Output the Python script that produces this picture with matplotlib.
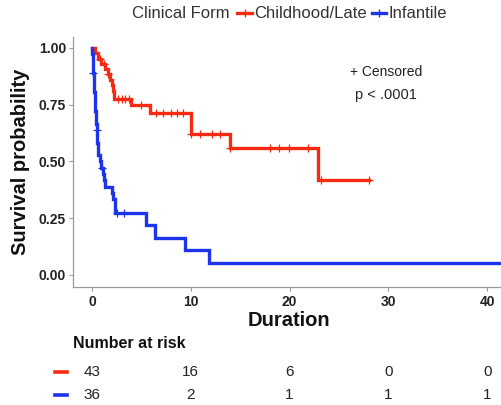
import numpy as np
import matplotlib
matplotlib.use("Agg")
import matplotlib.pyplot as plt
from matplotlib.lines import Line2D

plt.rcParams['font.family'] = ['Liberation Sans', 'DejaVu Sans']

# ---------------- data ----------------
groups = ["Childhood/Late", "Infantile"]
colors = ["#F52A12", "#1B34EC"]

red_times = [0, 0.3, 0.6, 0.9, 1.3, 1.6, 1.8, 2.0, 2.1, 2.2, 3.9, 5.9, 10.0, 14.0, 22.9]
red_surv = [1.0, 0.977, 0.953, 0.930, 0.907, 0.884, 0.860, 0.837, 0.810, 0.776, 0.749, 0.712, 0.620, 0.560, 0.418]
red_end = 28.0
red_censor = [0.8, 1.2, 1.6, 2.6, 3.0, 3.3, 3.7, 5.0, 6.5, 7.2, 8.0, 8.6, 9.2, 10.0,
              10.9, 12.1, 13.0, 14.0, 18.0, 18.9, 19.9, 21.9, 23.2, 28.0]

blue_times = [0, 0.04, 0.08, 0.11, 0.14, 0.17, 0.20, 0.23, 0.26, 0.30, 0.34, 0.38, 0.42,
              0.46, 0.50, 0.55, 0.60, 0.65, 0.80, 0.95, 1.10, 1.20, 1.30, 2.00, 2.15,
              2.30, 5.5, 6.4, 9.4, 11.8]
blue_surv = [1.0, 0.972, 0.944, 0.917, 0.889, 0.861, 0.833, 0.806, 0.778, 0.750, 0.722,
             0.694, 0.667, 0.639, 0.611, 0.583, 0.556, 0.528, 0.500, 0.472, 0.444, 0.417,
             0.389, 0.361, 0.333, 0.272, 0.218, 0.163, 0.109, 0.054]
blue_end = 45.0
blue_censor = [0.15, 0.47, 1.0, 2.5, 3.2]

risk_times = [0, 10, 20, 30, 40]
risk_red = [43, 16, 6, 0, 0]
risk_blue = [36, 2, 1, 1, 1]

xticks = [0, 10, 20, 30, 40]
yticks = [0.0, 0.25, 0.5, 0.75, 1.0]
ytick_labels = ["0.00", "0.25", "0.50", "0.75", "1.00"]

# ---------------- figure ----------------
W, H = 501, 405
fig = plt.figure(figsize=(W / 100, H / 100), dpi=100)
ax_l, ax_r, ax_t, ax_b = 73, 501, 37, 287
ax = fig.add_axes([ax_l / W, 1 - ax_b / H, (ax_r - ax_l) / W, (ax_b - ax_t) / H])
ax.set_xlim(-1.92, 41.4)
ax.set_ylim(-0.053, 1.048)


def step_value(times, surv, t):
    idx = np.searchsorted(np.asarray(times), t, side='right') - 1
    return np.asarray(surv)[idx]


for times, surv, end, cens, c in [(red_times, red_surv, red_end, red_censor, colors[0]),
                                  (blue_times, blue_surv, blue_end, blue_censor, colors[1])]:
    tt = list(times) + [end]
    ss = list(surv) + [surv[-1]]
    ax.step(tt, ss, where='post', color=c, lw=2.4, solid_joinstyle='miter', zorder=3)
    cy = [step_value(times, surv, t) for t in cens]
    ax.plot(cens, cy, ls='none', marker='+', ms=5.5, mew=0.9, color=c, zorder=4)

for s in ['top', 'right']:
    ax.spines[s].set_visible(False)
for s in ['left', 'bottom']:
    ax.spines[s].set_color('#9a9a9a')
    ax.spines[s].set_linewidth(0.9)
ax.tick_params(colors='#9a9a9a', length=3, width=0.8)
ax.set_xticks(xticks)
ax.set_xticklabels([str(x) for x in xticks], fontsize=10, fontweight='bold', color='#222222')
ax.set_yticks(yticks)
ax.set_yticklabels(ytick_labels, fontsize=10, fontweight='bold', color='#222222')
ax.tick_params(axis='x', pad=3)
ax.tick_params(axis='y', pad=2)

fig.text(21 / W, 1 - 162 / H, "Survival probability", rotation=90, ha='center', va='center',
         fontsize=14.5, fontweight='bold', color='#111111')
fig.text(289 / W, 1 - 320 / H, "Duration", ha='center', va='center',
         fontsize=14.5, fontweight='bold', color='#111111')

# annotations
ax.text(0.647, 0.86, "+ Censored", transform=ax.transAxes, ha='left', va='center',
        fontsize=10, color='#222222')
ax.text(0.66, 0.768, "p < .0001", transform=ax.transAxes, ha='left', va='center',
        fontsize=10.5, color='#222222')

# top legend
ly = 1 - 13 / H
fig.text(132 / W, ly, "Clinical Form", ha='left', va='center', fontsize=12, color='#333333')
for (x0, x1, tx), lab, c in zip([(237, 252, 254), (372, 386, 388)], groups, colors):
    fig.add_artist(Line2D([x0 / W, x1 / W], [ly, ly], color=c, lw=2.4))
    fig.add_artist(Line2D([(x0 + x1) / 2 / W], [ly], marker='+', ms=6, mew=1.0, color=c))
    fig.text(tx / W, ly, lab, ha='left', va='center', fontsize=12, color='#333333')

# number at risk table
fig.text(73 / W, 1 - 344 / H, "Number at risk", ha='left', va='center', fontsize=11.5,
         fontweight='bold', color='#111111')
for row_y, vals, c in [(372, risk_red, colors[0]), (395, risk_blue, colors[1])]:
    yy = 1 - row_y / H
    fig.add_artist(Line2D([55 / W, 67 / W], [yy, yy], color=c, lw=2.6))
    for t, v in zip(risk_times, vals):
        xd = ax.transData.transform((t, 0))[0]
        fig.text(xd / W, yy, str(v), ha='center', va='center', fontsize=11, color='#222222')

fig.savefig("out.png", dpi=100)
